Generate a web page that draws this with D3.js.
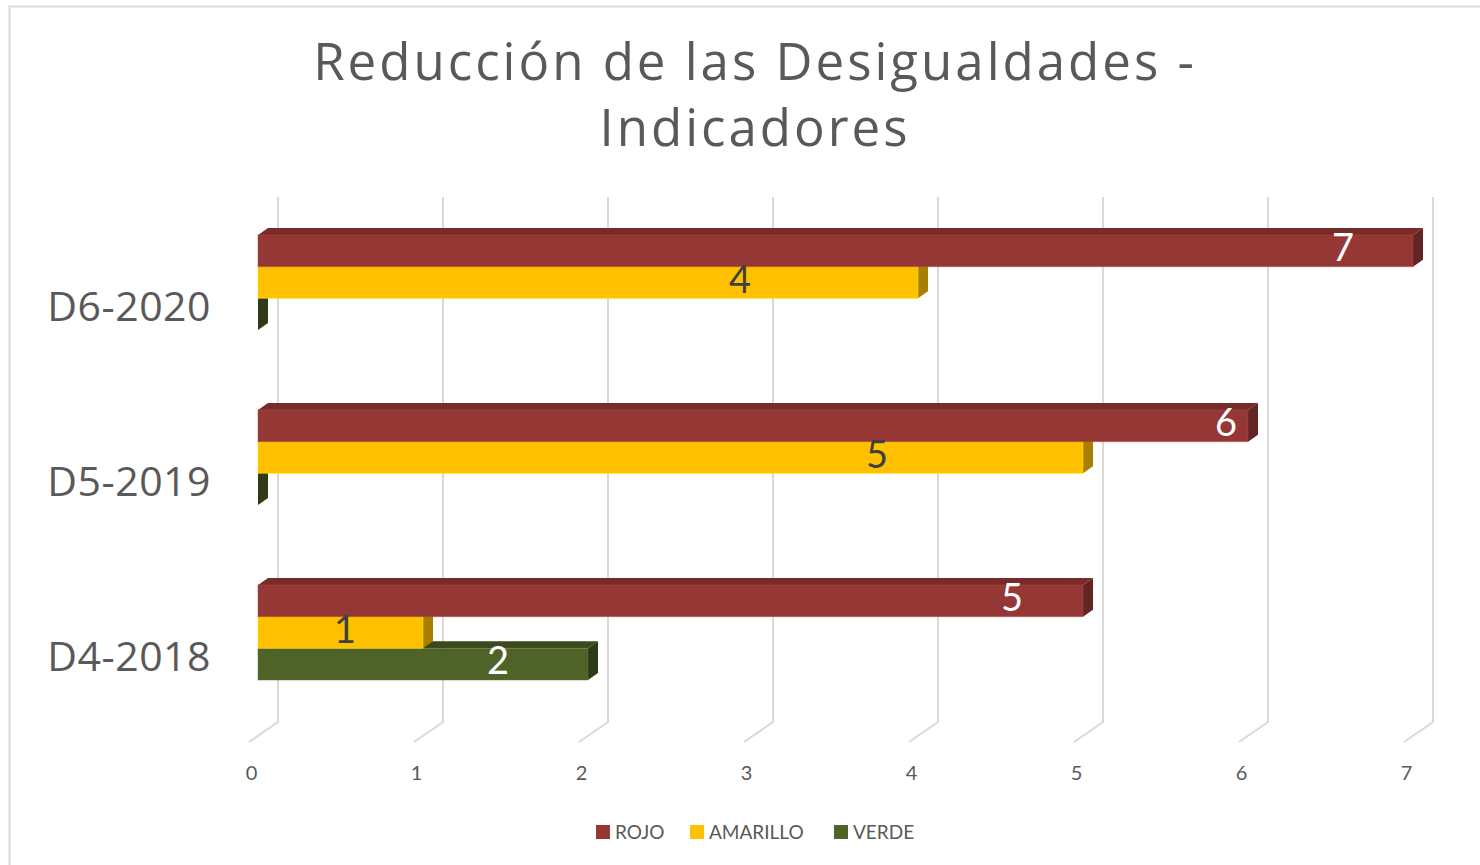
<!DOCTYPE html>
<html>
<head>
<meta charset="utf-8">
<script src="https://cdn.jsdelivr.net/npm/d3@7"></script>
<style>
  html, body { margin: 0; padding: 0; background: #fff; }
  svg { display: block; }
</style>
</head>
<body>
<svg id="chart" width="1480" height="865"></svg>
<script>
// Indicator counts per report year
const categories = ["D6-2020", "D5-2019", "D4-2018"];
const seriesNames = ["ROJO", "AMARILLO", "VERDE"];
const rojo = [7, 6, 5];
const amarillo = [4, 5, 1];
const verde = [0, 0, 2];
const tickValues = [0, 1, 2, 3, 4, 5, 6, 7];
const titleLines = ["Reducción de las Desigualdades -", "Indicadores"];

const values = [rojo, amarillo, verde];

// face colours: front, top, side
const palette = {
  ROJO:     { front: "#953735", top: "#772c2a", side: "#632523", label: "#ffffff" },
  AMARILLO: { front: "#ffc000", top: "#cc9a00", side: "#a88000", label: "#404040" },
  VERDE:    { front: "#4f6228", top: "#3b4a1e", side: "#2f3a18", label: "#ffffff" }
};

// horizontal placement of each value label, pixels left of the bar end
const labelInset = {
  "ROJO|D6-2020": 70, "AMARILLO|D6-2020": 178,
  "ROJO|D5-2019": 22, "AMARILLO|D5-2019": 206,
  "ROJO|D4-2018": 71, "AMARILLO|D4-2018": 78, "VERDE|D4-2018": 90
};

const svg = d3.select("#chart");
const textColor = "#595959";

// outer chart frame
svg.append("rect")
  .attr("x", 9.5).attr("y", 6.5)
  .attr("width", 1500).attr("height", 900)
  .attr("fill", "#fff").attr("stroke", "#d9d9d9").attr("stroke-width", 2);

// title
const title = svg.append("text")
  .attr("text-anchor", "middle")
  .attr("font-family", "'Open Sans', sans-serif")
  .attr("font-size", 51)
  .attr("letter-spacing", 3)
  .attr("fill", textColor);
title.selectAll("tspan").data(titleLines).join("tspan")
  .attr("x", 755)
  .attr("y", (d, i) => 80 + i * 66)
  .text(d => d);

// scales
const x = d3.scaleLinear().domain([0, 7]).range([258, 1413]);
const y = d3.scaleBand().domain(categories).range([195, 720])
  .paddingInner(80 / 175).paddingOuter(40 / 175);
const ySeries = d3.scaleBand().domain(seriesNames).range([0, y.bandwidth()]);

const depthX = 10, depthY = 7;      // bar depth
const wallX = 20;                   // back wall offset of gridlines
const floorX = -29, floorY = 20;    // floor edge of gridlines
const gridTop = 197, gridBottom = 722;

// gridlines running up the back wall and along the floor
const grid = svg.append("g").attr("fill", "none").attr("stroke", "#d9d9d9").attr("stroke-width", 2);
tickValues.forEach(t => {
  const bx = x(t) + wallX;
  grid.append("path")
    .attr("d", `M${bx},${gridTop} L${bx},${gridBottom} L${bx + floorX},${gridBottom + floorY}`);
});

// axis tick labels via d3 axis
const axisG = svg.append("g").attr("transform", `translate(-7, 766)`)
  .call(d3.axisBottom(x).tickValues(tickValues).tickSize(0).tickPadding(0).tickFormat(d3.format("d")));
axisG.select(".domain").remove();
axisG.selectAll("text")
  .attr("font-family", "Lato, sans-serif")
  .attr("font-size", 20)
  .attr("fill", textColor);

// category labels
svg.append("g").selectAll("text").data(categories).join("text")
  .attr("x", 211)
  .attr("y", d => y(d) + y.bandwidth() / 2 + 38)
  .attr("text-anchor", "end")
  .attr("font-family", "'Open Sans', sans-serif")
  .attr("font-size", 41)
  .attr("letter-spacing", 0.5)
  .attr("fill", textColor)
  .text(d => d);

// bars: lower series first so that upper bars cover their top faces
const bars = svg.append("g");
const drawOrder = [2, 1, 0];
categories.forEach((cat, ci) => {
  drawOrder.forEach(si => {
    const name = seriesNames[si];
    const v = values[si][ci];
    const c = palette[name];
    const x0 = x(0), x1 = x(v);
    const y0 = y(cat) + ySeries(name);
    const y1 = y0 + ySeries.bandwidth();
    const g = bars.append("g");
    // top face
    if (v > 0) {
      g.append("path")
        .attr("d", `M${x0},${y0} L${x0 + depthX},${y0 - depthY} L${x1 + depthX},${y0 - depthY} L${x1},${y0} Z`)
        .attr("fill", c.top);
    }
    // end face
    g.append("path")
      .attr("d", `M${x1},${y0} L${x1 + depthX},${y0 - depthY} L${x1 + depthX},${y1 - depthY} L${x1},${y1} Z`)
      .attr("fill", c.side);
    // front face
    if (v > 0) {
      g.append("rect")
        .attr("x", x0).attr("y", y0)
        .attr("width", x1 - x0).attr("height", y1 - y0)
        .attr("fill", c.front)
        .attr("stroke", d3.color(c.front).brighter(0.6))
        .attr("stroke-opacity", 0.5)
        .attr("stroke-width", 1);
    }
  });
});

// value labels
const labels = svg.append("g");
categories.forEach((cat, ci) => {
  seriesNames.forEach((name, si) => {
    const v = values[si][ci];
    if (v <= 0) return;
    const y0 = y(cat) + ySeries(name);
    labels.append("text")
      .attr("x", x(v) - labelInset[name + "|" + cat])
      .attr("y", y0 + ySeries.bandwidth() / 2 - 3)
      .attr("dy", "0.35em")
      .attr("text-anchor", "middle")
      .attr("font-family", "Lato, sans-serif")
      .attr("font-size", 38)
      .attr("fill", palette[name].label)
      .text(v);
  });
});

// legend
const legendX = [596, 690, 834];
const legend = svg.append("g").selectAll("g").data(seriesNames).join("g")
  .attr("transform", (d, i) => `translate(${legendX[i]}, 825)`);
legend.append("rect").attr("width", 14).attr("height", 14).attr("fill", d => palette[d].front);
legend.append("text")
  .attr("x", 19).attr("y", 7).attr("dy", "0.35em")
  .attr("font-family", "Lato, sans-serif")
  .attr("font-size", 19)
  .attr("fill", textColor)
  .text(d => d);
</script>
</body>
</html>
